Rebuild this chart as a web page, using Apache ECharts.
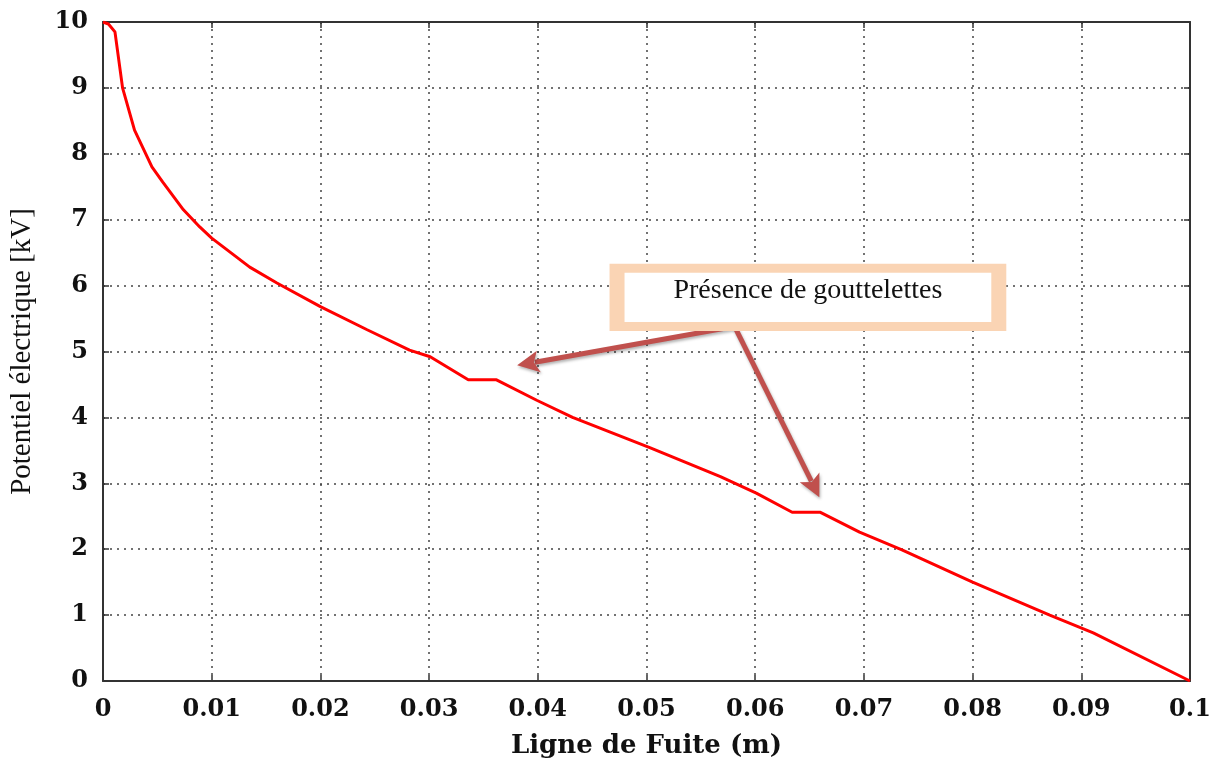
<!DOCTYPE html>
<html>
<head>
<meta charset="utf-8">
<script src="https://cdn.jsdelivr.net/npm/echarts@6/dist/echarts.min.js"></script>
<style>html,body{margin:0;padding:0;background:#fff}#c{width:1222px;height:760px}</style>
</head>
<body>
<div id="c"></div>
<script>
const xValues = [0, 0.0005, 0.0011, 0.0018, 0.0029, 0.0045, 0.0055, 0.0074, 0.0089, 0.01, 0.0135, 0.016, 0.02, 0.0243, 0.0282, 0.0301, 0.0336, 0.0362, 0.0399, 0.0432, 0.0503, 0.0568, 0.0601, 0.0634, 0.066, 0.0696, 0.0735, 0.08, 0.0871, 0.0911, 0.1];
const yValues = [10, 9.97, 9.85, 9.0, 8.36, 7.8, 7.57, 7.15, 6.89, 6.72, 6.28, 6.04, 5.68, 5.33, 5.02, 4.92, 4.57, 4.57, 4.26, 4.0, 3.54, 3.1, 2.85, 2.56, 2.56, 2.26, 1.99, 1.50, 1.0, 0.73, 0];
const xTitle = 'Ligne de Fuite (m)';
const yTitle = 'Potentiel électrique [kV]';
const noteText = 'Présence de gouttelettes';
const arrowTips = [[0.0381, 4.79], [0.0659, 2.79]];
const arrowStart = [0.0581, 5.38];
const boxCorners = [[0.0466, 6.33], [0.0831, 5.31]];

const chart = echarts.init(document.getElementById('c'));
const tickFont = {fontFamily: 'DejaVu Serif', fontWeight: 'bold', fontSize: 24, color: '#111'};
const gridLine = {show: true, lineStyle: {type: [2, 5], width: 1.5, color: '#444'}};
const axLine = {show: true, onZero: false, lineStyle: {color: '#333', width: 2}};
const tick = {show: true, inside: true, length: 6, lineStyle: {color: '#333', width: 1.5}};
chart.setOption({
  animation: false,
  grid: {left: 103, right: 32, top: 22, bottom: 79, containLabel: false, outerBoundsMode: 'none'},
  xAxis: [{
    type: 'value', min: 0, max: 0.1, interval: 0.01,
    axisLine: axLine, axisTick: tick,
    axisLabel: Object.assign({margin: 17, formatter: v => String(+v.toFixed(2))}, tickFont),
    splitLine: gridLine,
    name: xTitle, nameLocation: 'middle', nameGap: 52,
    nameTextStyle: {fontFamily: 'DejaVu Serif', fontWeight: 'bold', fontSize: 26, color: '#111'}
  }, {
    type: 'value', position: 'top', min: 0, max: 0.1, interval: 0.01,
    axisLine: axLine, axisTick: tick,
    axisLabel: {show: false}, splitLine: {show: false}
  }],
  yAxis: [{
    type: 'value', min: 0, max: 10, interval: 1,
    axisLine: axLine, axisTick: tick,
    axisLabel: Object.assign({margin: 15}, tickFont),
    splitLine: gridLine,
    name: yTitle, nameLocation: 'middle', nameGap: 66,
    nameTextStyle: {fontFamily: 'Liberation Serif', fontSize: 29, color: '#111'}
  }, {
    type: 'value', position: 'right', min: 0, max: 10, interval: 1,
    axisLine: axLine, axisTick: tick,
    axisLabel: {show: false}, splitLine: {show: false}
  }],
  series: [{
    type: 'line', showSymbol: false, smooth: false,
    data: xValues.map((x, i) => [x, yValues[i]]),
    lineStyle: {color: '#ff0000', width: 3}, z: 5
  }]
});

function px(p) { return chart.convertToPixel({xAxisIndex: 0, yAxisIndex: 0}, p); }
const s = px(arrowStart);
const b0 = px(boxCorners[0]), b1 = px(boxCorners[1]);
const g = [];
g.push({type: 'rect', shape: {x: b0[0], y: b0[1], width: b1[0] - b0[0], height: b1[1] - b0[1]}, style: {fill: '#fad4b4'}, z: 10});
g.push({type: 'rect', shape: {x: b0[0] + 15, y: b0[1] + 9, width: b1[0] - b0[0] - 30, height: b1[1] - b0[1] - 18}, style: {fill: '#fff'}, z: 11});
g.push({type: 'text', x: (b0[0] + b1[0]) / 2, y: b0[1] + 27, style: {text: noteText, font: '28px "Liberation Serif"', fill: '#111', align: 'center', verticalAlign: 'middle'}, z: 12});
arrowTips.forEach(tp => {
  const t = px(tp);
  const dx = t[0] - s[0], dy = t[1] - s[1];
  const L = Math.hypot(dx, dy), ux = dx / L, uy = dy / L;
  const hl = 22, hw = 11;
  const bx = t[0] - ux * hl, by = t[1] - uy * hl;
  g.push({type: 'line', shape: {x1: s[0], y1: s[1], x2: bx + ux * 4, y2: by + uy * 4}, style: {stroke: '#c0504d', lineWidth: 5, shadowBlur: 3, shadowColor: 'rgba(0,0,0,0.3)', shadowOffsetX: 1, shadowOffsetY: 2}, z: 9});
  g.push({type: 'polygon', shape: {points: [[t[0], t[1]], [bx - uy * hw, by + ux * hw], [bx + ux * 5, by + uy * 5], [bx + uy * hw, by - ux * hw]]}, style: {fill: '#c0504d', shadowBlur: 3, shadowColor: 'rgba(0,0,0,0.3)', shadowOffsetX: 1, shadowOffsetY: 2}, z: 9});
});
chart.setOption({graphic: g});
</script>
</body>
</html>
